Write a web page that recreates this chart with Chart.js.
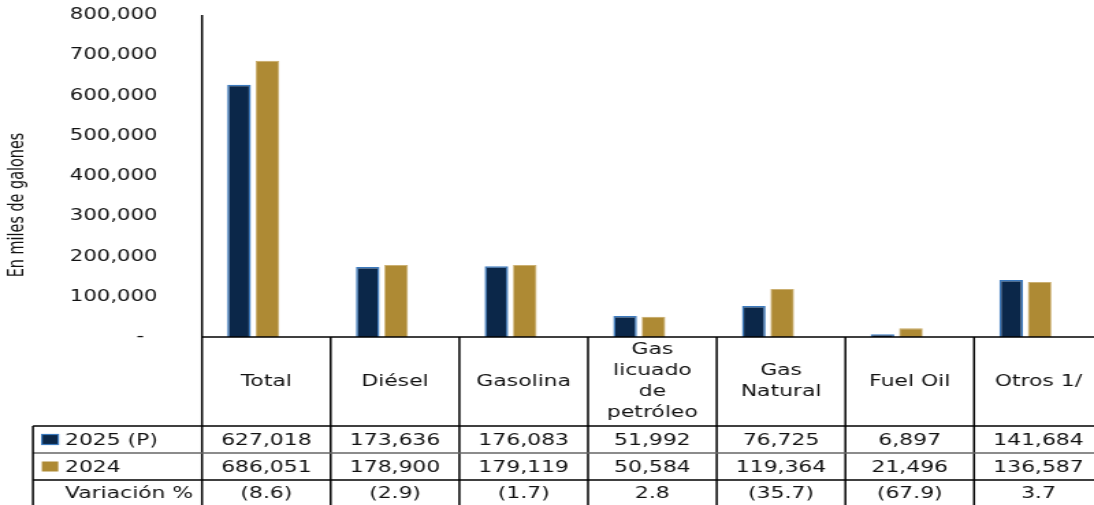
<!DOCTYPE html>
<html>
<head>
<meta charset="utf-8">
<script src="https://cdn.jsdelivr.net/npm/chart.js@4/dist/chart.umd.min.js"></script>
<style>
  html, body { margin: 0; padding: 0; overflow: hidden; background: #fff; }
  #wrap { width: 1094px; height: 505px; overflow: hidden; }
  /* the reference is stretched sideways, so the chart is drawn narrow and widened */
  #chart { transform: scaleX(1.3675); transform-origin: 0 0; display: block; }
</style>
</head>
<body>
<div id="wrap"><canvas id="chart" width="808" height="505"></canvas></div>
<script>
var categories = ['Total', 'Diésel', 'Gasolina', ['Gas', 'licuado', 'de', 'petróleo'], ['Gas', 'Natural'], 'Fuel Oil', 'Otros 1/'];
var values2025 = [627018, 173636, 176083, 51992, 76725, 6897, 141684];
var values2024 = [686051, 178900, 179119, 50584, 119364, 21496, 136587];
var variation = [-8.6, -2.9, -1.7, 2.8, -35.7, -67.9, 3.7];
var seriesNames = ['2025 (P)', '2024'];
var variationLabel = 'Variación %';
var yTitle = 'En miles de galones';

var navy = '#0b2749';
var gold = '#ae8a34';
var tableFont = '16px "DejaVu Sans", Verdana, sans-serif';

function fmt(v) { return v.toLocaleString('en-US'); }
function fmtPct(v) {
  var s = Math.abs(v).toFixed(1);
  return v < 0 ? '(' + s + ')' : s;
}

// draws the axis line, the data table under the bars and the y title
var tablePlugin = {
  id: 'dataTable',
  afterDraw: function (chart, args, opts) {
    var ctx = chart.ctx;
    var x = chart.scales.x;
    var area = chart.chartArea;
    var n = chart.data.labels.length;
    var colW = x.getPixelForValue(1) - x.getPixelForValue(0);
    var left0 = x.getPixelForValue(0) - colW / 2 + opts.shift;
    var right = left0 + n * colW;
    var H = chart.height;
    var rows = opts.rows; // y of the row lines
    ctx.save();
    ctx.strokeStyle = '#000';
    ctx.lineWidth = 1.5;

    // y axis line, running down through the table
    ctx.beginPath();
    ctx.moveTo(left0, area.top);
    ctx.lineTo(left0, H);
    ctx.stroke();

    // base line / top of table
    ctx.beginPath();
    ctx.moveTo(left0, area.bottom);
    ctx.lineTo(right, area.bottom);
    ctx.stroke();

    // column lines
    for (var i = 1; i <= n; i++) {
      ctx.beginPath();
      ctx.moveTo(left0 + i * colW, area.bottom);
      ctx.lineTo(left0 + i * colW, H);
      ctx.stroke();
    }

    // row lines
    rows.forEach(function (ry, k) {
      ctx.strokeStyle = k === 1 ? '#666' : '#000';
      ctx.beginPath();
      ctx.moveTo(opts.tableLeft, ry);
      ctx.lineTo(right, ry);
      ctx.stroke();
    });
    ctx.strokeStyle = '#000';
    ctx.beginPath();
    ctx.moveTo(opts.tableLeft, rows[0]);
    ctx.lineTo(opts.tableLeft, H);
    ctx.stroke();

    // category labels
    ctx.fillStyle = '#111';
    ctx.font = tableFont;
    ctx.textAlign = 'center';
    ctx.textBaseline = 'middle';
    var headMid = (area.bottom + rows[0]) / 2;
    chart.data.labels.forEach(function (lab, i) {
      var lines = Array.isArray(lab) ? lab : [lab];
      var cx = left0 + (i + 0.5) * colW;
      var y0 = headMid - (lines.length - 1) * opts.lineH / 2;
      lines.forEach(function (t, j) { ctx.fillText(t, cx, y0 + j * opts.lineH); });
    });

    // values
    var rowMid = [(rows[0] + rows[1]) / 2, (rows[1] + rows[2]) / 2, (rows[2] + H) / 2];
    var ds = chart.data.datasets;
    for (var c = 0; c < n; c++) {
      var cx2 = left0 + (c + 0.5) * colW;
      ctx.fillText(fmt(ds[0].data[c]), cx2, rowMid[0] + 1);
      ctx.fillText(fmt(ds[1].data[c]), cx2, rowMid[1] + 1);
      ctx.fillText(fmtPct(variation[c]), cx2, rowMid[2] + 1);
    }

    // row headers with legend keys
    ctx.textAlign = 'left';
    ds.forEach(function (d, k) {
      var ym = rowMid[k];
      ctx.fillStyle = d.backgroundColor;
      ctx.fillRect(opts.keyX, ym - 5, 12, 10);
      if (k === 0) {
        ctx.strokeStyle = d.borderColor;
        ctx.lineWidth = 1.2;
        ctx.strokeRect(opts.keyX, ym - 5, 12, 10);
      }
      ctx.fillStyle = '#111';
      ctx.fillText(d.label, opts.textX, ym + 1);
    });
    ctx.fillText(variationLabel, opts.textX, rowMid[2] + 1);

    // y title
    ctx.save();
    ctx.translate(opts.titleX, opts.titleY);
    ctx.rotate(-Math.PI / 2);
    ctx.textAlign = 'center';
    ctx.font = '16px "Liberation Sans Narrow", "Arial Narrow", "DejaVu Sans Condensed", sans-serif';
    ctx.fillText(yTitle, 0, 0);
    ctx.restore();

    ctx.restore();
  }
};

new Chart(document.getElementById('chart'), {
  type: 'bar',
  data: {
    labels: categories,
    datasets: [
      {
        label: seriesNames[0],
        data: values2025,
        backgroundColor: navy,
        borderColor: '#3b79bd',
        borderWidth: 1.5,
        barPercentage: 0.83,
        categoryPercentage: 0.442
      },
      {
        label: seriesNames[1],
        data: values2024,
        backgroundColor: gold,
        borderColor: '#c7a862',
        borderWidth: 0.8,
        barPercentage: 0.83,
        categoryPercentage: 0.442
      }
    ]
  },
  options: {
    responsive: false,
    animation: false,
    devicePixelRatio: 1,
    layout: { padding: { top: 15, bottom: 168, left: 0, right: 11.15 } },
    plugins: {
      legend: { display: false },
      tooltip: { enabled: false },
      dataTable: {
        shift: 9.55,
        tableLeft: 24.1,
        rows: [426, 453, 480],
        lineH: 21,
        keyX: 30.6,
        textX: 47.5,
        titleX: 13,
        titleY: 205
      }
    },
    scales: {
      x: {
        ticks: { display: false },
        grid: { display: false },
        border: { display: false },
        afterFit: function (s) { s.height = 0; s.paddingLeft = 0; s.paddingRight = 0; }
      },
      y: {
        min: 0,
        max: 800000,
        afterFit: function (s) { s.width = 138.15; s.paddingTop = 0; s.paddingBottom = 0; },
        ticks: {
          stepSize: 100000,
          padding: 23,
          color: '#111',
          font: { family: '"DejaVu Sans", Verdana, sans-serif', size: 15.5 },
          callback: function (v) { return v === 0 ? '-  ' : fmt(v); }
        },
        grid: { display: false, drawTicks: false },
        border: { display: false }
      }
    }
  },
  plugins: [tablePlugin]
});
</script>
</body>
</html>
